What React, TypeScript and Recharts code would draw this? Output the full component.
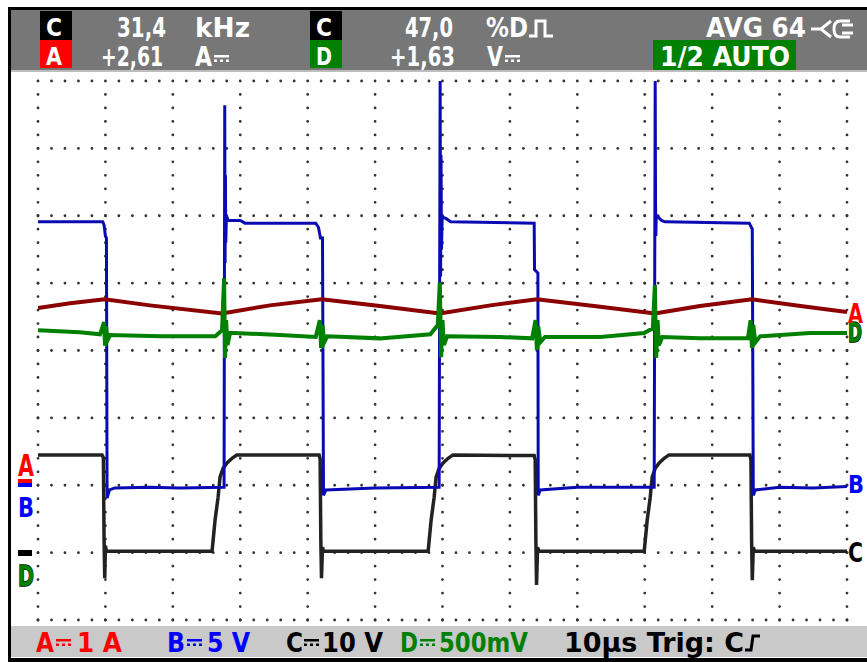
import React from "react";
import { ComposedChart, Line, XAxis, YAxis, ReferenceLine } from "recharts";

// x: time in µs (10 µs/div), y: screen divisions counted from the bottom edge
const timeTicks = [0, 10, 20, 30, 40, 50, 60, 70, 80, 90, 100, 110, 120];
const levelTicks = [0, 1, 2, 3, 4, 5, 6, 7, 8];

// channel A, inductor current (red)
const traceA: [number, number][] = [
  [0, 4.63], [4.75, 4.7], [9.9, 4.76], [16.6, 4.67], [27.3, 4.55], [34.4, 4.67],
  [42.1, 4.76], [50.7, 4.66], [59.6, 4.55], [67.1, 4.67], [74.0, 4.76], [83.4, 4.65],
  [91.5, 4.55], [98.2, 4.66], [105.9, 4.76], [113.1, 4.66], [120, 4.57],
];

// channel B, switch node (blue)
const traceB: [number, number][] = [
  [0, 5.91], [9.6, 5.91], [9.8, 5.86], [10.0, 5.7], [10.15, 5.67], [10.25, 1.81],
  [10.6, 1.93], [11.4, 1.96], [16.6, 1.97], [21.0, 1.96], [27.6, 1.97],
  [27.7, 7.64], [27.75, 5.3], [27.8, 6.6], [27.85, 5.6], [27.95, 6.0], [28.2, 5.93],
  [30.0, 5.93], [30.7, 5.89], [41.2, 5.89], [41.6, 5.83], [41.9, 5.67], [42.2, 5.67],
  [42.35, 1.85], [42.7, 1.93], [50.0, 1.96], [59.5, 1.97],
  [59.65, 8.0], [59.72, 5.1], [59.78, 6.9], [59.85, 5.5], [59.95, 5.98], [60.5, 5.96],
  [61.2, 5.91], [73.6, 5.89], [73.65, 5.2], [74.15, 5.15], [74.2, 1.85], [74.5, 1.93],
  [80.0, 1.97], [91.4, 1.97],
  [91.55, 8.0], [91.6, 6.2], [91.65, 5.7], [91.7, 6.0], [92.0, 5.98], [92.5, 5.93],
  [93.0, 5.91], [105.5, 5.89], [105.8, 5.83], [105.95, 5.8], [106.1, 1.85],
  [106.4, 1.93], [110, 1.97], [115, 1.96], [120, 1.98],
];

// channel C, gate drive (black)
const traceC: [number, number][] = [
  [0, 2.45], [9.5, 2.45], [9.7, 2.41], [9.8, 1.19], [9.9, 0.62], [10.0, 1.1], [10.15, 1.02],
  [25.82, 1.02], [26.26, 1.48], [26.71, 1.82], [27.0, 2.12], [27.45, 2.25], [28.04, 2.33],
  [28.78, 2.4], [29.5, 2.45],
  [41.7, 2.45], [41.85, 2.39], [41.95, 1.19], [42.05, 0.62], [42.2, 1.08], [42.35, 1.02],
  [57.87, 1.02], [58.31, 1.48], [58.76, 1.82], [59.05, 2.12], [59.5, 2.25], [60.09, 2.33],
  [60.83, 2.4], [61.55, 2.45],
  [73.6, 2.44], [73.75, 2.38], [73.85, 1.19], [73.95, 0.52], [74.1, 1.08], [74.3, 1.02],
  [89.92, 1.02], [90.36, 1.48], [90.81, 1.82], [91.1, 2.12], [91.55, 2.25], [92.14, 2.33],
  [92.88, 2.4], [93.6, 2.45],
  [105.6, 2.45], [105.75, 2.38], [105.85, 1.19], [105.95, 0.59], [106.1, 1.08],
  [106.3, 1.02], [120, 1.02],
];

// channel D, output ripple (green)
const traceD: [number, number][] = [
  [0, 4.3], [6.2, 4.27], [9.2, 4.24], [9.8, 4.42], [9.95, 4.07], [10.1, 4.36], [10.3, 4.15],
  [10.7, 4.23], [18.1, 4.21], [26.3, 4.21], [27.3, 4.3], [27.6, 5.07], [27.75, 3.89],
  [27.9, 4.45], [28.1, 4.08], [28.5, 4.26], [29.2, 4.26], [35.9, 4.23], [41.2, 4.2],
  [41.8, 4.45], [42.0, 4.04], [42.2, 4.38], [42.45, 4.12], [42.9, 4.21], [50.7, 4.18],
  [58.2, 4.24], [59.3, 4.38], [59.6, 5.01], [59.8, 3.9], [60.0, 4.45], [60.2, 4.08],
  [60.7, 4.21], [68.5, 4.2], [73.3, 4.18], [73.8, 4.45], [74.0, 4.01], [74.2, 4.36],
  [74.5, 4.12], [75.2, 4.2], [83.4, 4.2], [89.9, 4.26], [91.2, 4.33], [91.5, 4.97],
  [91.7, 3.89], [91.9, 4.45], [92.1, 4.08], [92.6, 4.2], [98.2, 4.18], [105.3, 4.18],
  [105.7, 4.45], [105.9, 4.04], [106.1, 4.38], [106.4, 4.12], [107.1, 4.21], [114.5, 4.26],
  [120, 4.26],
];

const pts = (a: [number, number][]) => a.map(([t, v]) => ({ t, v }));

const FONT = "'DejaVu Sans', 'Liberation Sans', sans-serif";

function T({ x, x2, y, size = 26, fill = "#fff", outline, children }: any) {
  return (
    <text
      x={x}
      y={y}
      textLength={x2 - x}
      lengthAdjust="spacingAndGlyphs"
      fontSize={size}
      fontWeight="bold"
      fontFamily={FONT}
      fill={fill}
      stroke={outline}
      strokeWidth={outline ? 1.4 : undefined}
      paintOrder="stroke"
    >
      {children}
    </text>
  );
}

// ⎓ drawn by hand: solid bar over a dashed one
function Dc({ x, y, w = 15, fill }: any) {
  const d = w / 5;
  return (
    <g fill={fill}>
      <rect x={x} y={y} width={w} height={2.5} />
      <rect x={x} y={y + 4.5} width={d} height={2.5} />
      <rect x={x + 2 * d} y={y + 4.5} width={d} height={2.5} />
      <rect x={x + 4 * d} y={y + 4.5} width={d} height={2.5} />
    </g>
  );
}

function Frame() {
  return (
    <svg width={867} height={662} style={{ position: "absolute", left: 0, top: 0 }}>
      <rect x={8} y={7} width={859} height={655} fill="#000" />
      <rect x={11} y={10} width={856} height={648} fill="#fff" />
      <rect x={11} y={10} width={856} height={60} fill="#777" />
      <rect x={11} y={70} width={856} height={2} fill="#bdbdbd" />
      <rect x={11} y={626} width={856} height={31} fill="#c9c9c9" />
    </svg>
  );
}

function Labels() {
  return (
    <svg width={867} height={662} style={{ position: "absolute", left: 0, top: 0, pointerEvents: "none" }}>
      {/* header row 1 */}
      <rect x={40} y={11} width={32} height={29} fill="#000" />
      <T x={46} x2={62} y={36} size={25}>C</T>
      <T x={117} x2={166} y={37}>31,4</T>
      <T x={195} x2={250} y={37}>kHz</T>
      <rect x={310} y={11} width={32} height={29} fill="#000" />
      <T x={316} x2={332} y={36} size={25}>C</T>
      <T x={405} x2={453} y={37}>47,0</T>
      <T x={486} x2={528} y={37}>%D</T>
      <polyline points="529,36 536,36 536,21 545,21 545,36 553,36" fill="none" stroke="#fff" strokeWidth={3} />
      <T x={706} x2={806} y={37}>AVG 64</T>
      <g fill="none" stroke="#fff" strokeWidth={3}>
        <line x1={811} y1={29} x2={821} y2={29} />
        <polyline points="831,21 821,29 831,37" />
        <path d="M850 21 H840 Q834 21 834 29 Q834 37 840 37 H850" />
        <line x1={842} y1={25} x2={853} y2={25} />
        <line x1={842} y1={33} x2={853} y2={33} />
      </g>
      {/* header row 2 */}
      <rect x={40} y={40} width={32} height={28} fill="#f00" />
      <T x={46} x2={62} y={65} size={25}>A</T>
      <T x={101} x2={163} y={66}>+2,61</T>
      <T x={195} x2={212} y={66}>A</T>
      <Dc x={214} y={55} w={15} fill="#fff" />
      <rect x={310} y={40} width={32} height={28} fill="#008000" />
      <T x={316} x2={332} y={65} size={25}>D</T>
      <T x={390} x2={455} y={66}>+1,63</T>
      <T x={487} x2={503} y={66}>V</T>
      <Dc x={505} y={55} w={15} fill="#fff" />
      <rect x={653} y={40} width={143} height={30} fill="#008000" />
      <T x={660} x2={790} y={66}>1/2 AUTO</T>

      {/* footer */}
      <T x={36} x2={54} y={652} fill="#f00">A</T>
      <Dc x={56} y={639} w={15} fill="#f00" />
      <T x={77} x2={122} y={652} fill="#f00">1 A</T>
      <T x={167} x2={185} y={652} fill="#00f">B</T>
      <Dc x={187} y={639} w={15} fill="#00f" />
      <T x={207} x2={250} y={652} fill="#00f">5 V</T>
      <T x={286} x2={303} y={652} fill="#000">C</T>
      <Dc x={304} y={639} w={15} fill="#000" />
      <T x={322} x2={383} y={652} fill="#000">10 V</T>
      <T x={400} x2={418} y={652} fill="#008000">D</T>
      <Dc x={420} y={639} w={15} fill="#008000" />
      <T x={439} x2={528} y={652} fill="#008000">500mV</T>
      <T x={564} x2={744} y={652} fill="#000">10µs Trig: C</T>
      <polyline points="745,650 751,650 753,636 760,636" fill="none" stroke="#000" strokeWidth={3} />

      {/* left ground markers */}
      <T x={18} x2={34} y={476} size={30} fill="#f00">A</T>
      <rect x={18} y={479} width={14} height={4} fill="#f00" />
      <rect x={18} y={483} width={14} height={4} fill="#00f" />
      <T x={18} x2={34} y={517} size={27} fill="#00f">B</T>
      <rect x={18} y={550} width={14} height={6} fill="#000" />
      <T x={18} x2={34} y={586} size={29} fill="#008000" outline="#000">D</T>

      {/* right trace markers */}
      <T x={848} x2={862} y={342} size={26} fill="#008000" outline="#000">D</T>
      <T x={848} x2={863} y={323} size={26} fill="#f00">A</T>
      <T x={848} x2={864} y={493} size={25} fill="#00f">B</T>
      <T x={848} x2={863} y={562} size={26} fill="#000">C</T>
    </svg>
  );
}

export default function App() {
  return (
    <div style={{ position: "absolute", left: 0, top: 0, width: 867, height: 662, background: "#fff" }}>
      <Frame />
      <div style={{ position: "absolute", left: 0, top: 0 }}>
        <ComposedChart width={867} height={662} margin={{ top: 81, right: 20, bottom: 42, left: 38 }}>
          <XAxis type="number" dataKey="t" domain={[0, 120]} ticks={timeTicks} hide allowDataOverflow />
          <YAxis type="number" dataKey="v" domain={[0, 8]} ticks={levelTicks} hide allowDataOverflow />
          {timeTicks.map((t) => (
            <ReferenceLine
              key={"x" + t}
              x={t}
              stroke="#333"
              strokeWidth={2.8}
              strokeLinecap="round"
              strokeDasharray="0 13.475"
            />
          ))}
          {levelTicks.map((v) => (
            <ReferenceLine
              key={"y" + v}
              y={v}
              stroke="#333"
              strokeWidth={2.8}
              strokeLinecap="round"
              strokeDasharray="0 13.483"
            />
          ))}
          <Line data={pts(traceC)} dataKey="v" type="linear" dot={false} stroke="#222" strokeWidth={3.5} isAnimationActive={false} />
          <Line data={pts(traceB)} dataKey="v" type="linear" dot={false} stroke="#0a0ab4" strokeWidth={3} isAnimationActive={false} />
          <Line data={pts(traceA)} dataKey="v" type="linear" dot={false} stroke="#8b0000" strokeWidth={4} isAnimationActive={false} />
          <Line data={pts(traceD)} dataKey="v" type="linear" dot={false} stroke="#008000" strokeWidth={4} isAnimationActive={false} />
        </ComposedChart>
      </div>
      <Labels />
    </div>
  );
}
